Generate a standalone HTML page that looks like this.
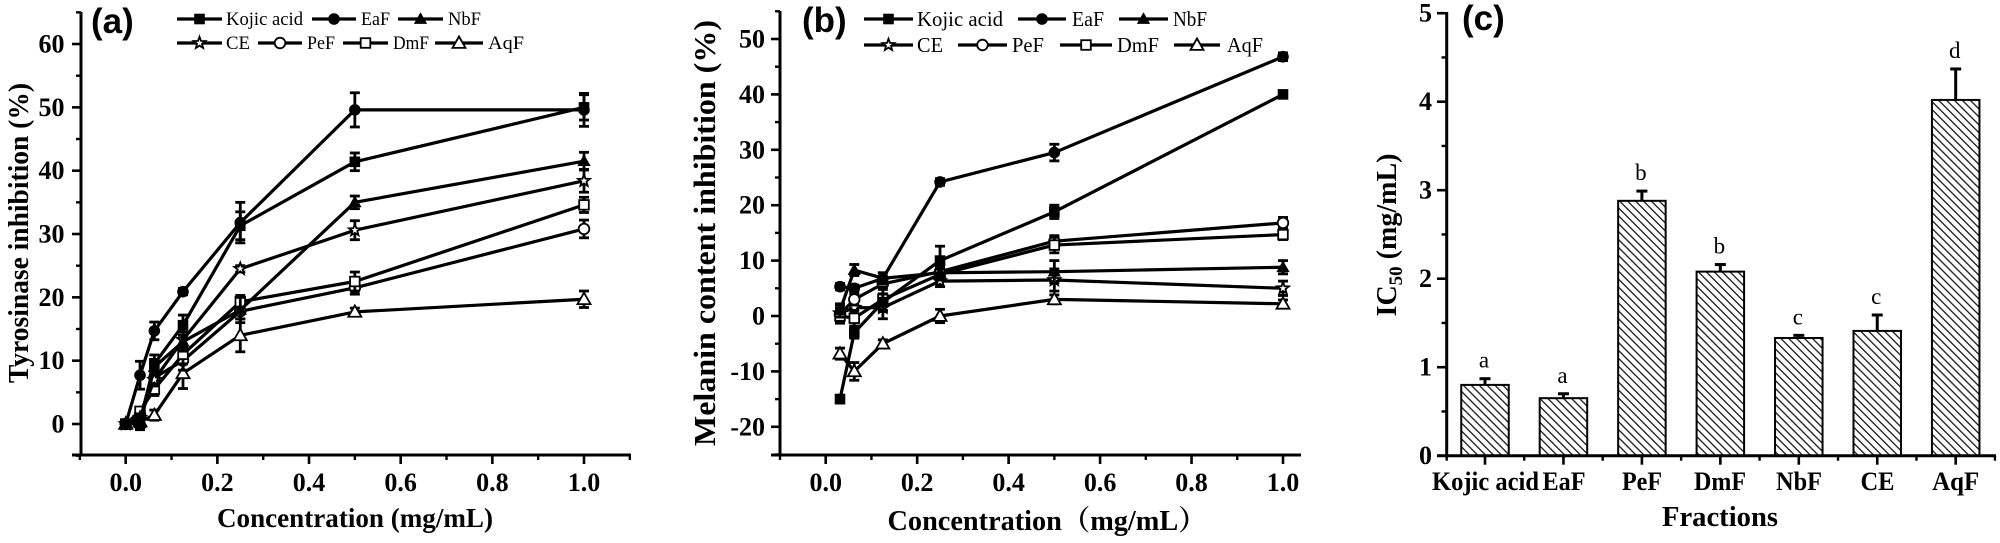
<!DOCTYPE html>
<html lang="en">
<head>
<meta charset="utf-8">
<title>Tyrosinase and melanin inhibition charts</title>
<style>
html,body{margin:0;padding:0;background:#fff;width:2000px;height:543px;overflow:hidden}
svg{display:block;font-family:"Liberation Serif","Noto Serif CJK SC",serif;color:#000;filter:blur(0.35px)}
</style>
</head>
<body>
<svg id="figure" xmlns="http://www.w3.org/2000/svg" width="2000" height="543" viewBox="0 0 2000 543">
<defs>
<pattern id="hatch" patternUnits="userSpaceOnUse" width="5.6" height="10" patternTransform="rotate(-45)">
<rect x="0" y="0" width="1.35" height="10" fill="#222"></rect>
</pattern>
</defs>
</svg>
<script>
// ---------- data ----------
const concentrationsA = [0, 0.03125, 0.0625, 0.125, 0.25, 0.5, 1];
const concentrationsB = [0.03125, 0.0625, 0.125, 0.25, 0.5, 1];
const seriesNames = ['Kojic acid', 'EaF', 'NbF', 'CE', 'PeF', 'DmF', 'AqF'];

const aAq = [0, 0.4, 1.4, 8, 14, 17.7, 19.7];
const aAqErr = [0.3, 0.5, 0.8, 2.4, 2.6, 0.6, 1.3];
const aPe = [0, 1.5, 7.3, 10, 17.8, 21.5, 30.8];
const aPeErr = [0.3, 0.6, 1.2, 1.5, 1.2, 1, 1.4];
const aDm = [0, 2, 5.5, 11, 19.3, 22.5, 34.6];
const aDmErr = [0.3, 0.6, 1, 1.5, 1, 1.5, 1.2];
const aCe = [0, 1, 7, 13.3, 24.5, 30.6, 38.4];
const aCeErr = [0.3, 0.6, 1, 1.2, 0.5, 1.5, 1.8];
const aNb = [0, 0.1, 9, 13, 18, 35, 41.5];
const aNbErr = [0.3, 1, 1.2, 1.5, 2, 1, 1.4];
const aEa = [0, 7.7, 14.7, 20.9, 31.8, 49.6, 49.6];
const aEaErr = [0.3, 2.2, 1.4, 0.5, 3.2, 2.7, 2.6];
const aKo = [0, 0.5, 9.5, 15.6, 31.3, 41.4, 50];
const aKoErr = [0.3, 1, 1.4, 1.6, 2.2, 1.4, 2];

const bAq = [-6.8, -10, -5, 0, 3, 2.2];
const bAqErr = [1, 1.6, 0.7, 1.2, 0.8, 0.7];
const bCe = [0.5, 1.5, 1.5, 6.3, 6.5, 5];
const bCeErr = [1.5, 1.5, 2, 1, 2, 1.3];
const bPe = [0.3, 3, 5.8, 8, 13.5, 16.8];
const bPeErr = [1.2, 1, 1, 1, 1, 1];
const bDm = [0, -0.4, 3, 7.5, 12.8, 14.7];
const bDmErr = [1.3, 1.4, 2.2, 1, 1.4, 0.9];
const bNb = [1, 8.3, 6.8, 7.8, 8, 8.8];
const bNbErr = [1.2, 1, 1, 1, 2, 1.2];
const bEa = [5.3, 5, 6.8, 24.2, 29.5, 46.8];
const bEaErr = [0.6, 0.6, 1, 0.6, 1.5, 0.7];
const bKo = [-15, -3, 2.5, 10, 18.8, 40];
const bKoErr = [0.7, 1, 1.5, 2.6, 1.2, 0.5];

const xTickLabels = ['0.0', '0.2', '0.4', '0.6', '0.8', '1.0'];
const xTickValues = [0, 0.2, 0.4, 0.6, 0.8, 1];
const aYTicks = [0, 10, 20, 30, 40, 50, 60];
const bYTicks = [-20, -10, 0, 10, 20, 30, 40, 50];

const barCategories = ['Kojic acid', 'EaF', 'PeF', 'DmF', 'NbF', 'CE', 'AqF'];
const barValues = [0.80, 0.65, 2.88, 2.08, 1.33, 1.41, 4.02];
const barErrors = [0.07, 0.05, 0.11, 0.08, 0.03, 0.18, 0.35];
const barLetters = ['a', 'a', 'b', 'b', 'c', 'c', 'd'];
const cYTicks = [0, 1, 2, 3, 4, 5];

// ---------- helpers ----------
const NS = 'http://www.w3.org/2000/svg';
const svg = document.getElementById('figure');
function mk(tag, attrs, parent, name) {
  const el = document.createElementNS(NS, tag);
  for (const k in attrs) el.setAttribute(k, attrs[k]);
  
  
  (parent || svg).appendChild(el);
  return el;
}
function line(p, x1, y1, x2, y2, w, name) {
  return mk('line', {x1, y1, x2, y2, stroke: '#000', 'stroke-width': w}, p, name);
}
function txt(p, x, y, s, o, name) {
  const a = Object.assign({x, y, 'font-size': 26, 'font-weight': 'bold', fill: '#000'}, o || {});
  const t = mk('text', a, p, name);
  t.textContent = s;
  return t;
}
function marker(p, kind, x, y, name) {
  const solid = kind === 'Kojic acid' || kind === 'EaF' || kind === 'NbF';
  const fill = solid ? '#000' : '#fff';
  const s = {fill, stroke: '#000', 'stroke-width': solid ? 1 : 1.8};
  if (kind === 'Kojic acid' || kind === 'DmF') {
    const d = 4.8;
    mk('rect', Object.assign({x: x - d, y: y - d, width: 2 * d, height: 2 * d}, s), p, name);
  } else if (kind === 'EaF' || kind === 'PeF') {
    mk('circle', Object.assign({cx: x, cy: y, r: 5.3}, s), p, name);
  } else if (kind === 'NbF' || kind === 'AqF') {
    const r = kind === 'AqF' ? 6.5 : 5.8;
    mk('polygon', Object.assign({points: `${x},${y - r} ${x + r},${y + r * 0.75} ${x - r},${y + r * 0.75}`}, s), p, name);
  } else {
    const pts = [];
    for (let i = 0; i < 10; i++) {
      const rr = i % 2 ? 2.6 : 6.2, an = -Math.PI / 2 + i * Math.PI / 5;
      pts.push((x + rr * Math.cos(an)).toFixed(1) + ',' + (y + rr * Math.sin(an)).toFixed(1));
    }
    mk('polygon', Object.assign({points: pts.join(' ')}, s), p, name);
  }
}
function lineChart(cfg) {
  const g = mk('g', {}, svg, cfg.name);
  const X = v => cfg.x0 + v * cfg.xs;
  const Y = v => cfg.y0 - v * cfg.ys;
  // axes
  line(g, cfg.axisX, cfg.top, cfg.axisX, cfg.bottom + 1.5, 3, 'y-axis-line');
  line(g, cfg.axisX - 9, cfg.bottom, cfg.right, cfg.bottom, 3, 'x-axis-line');
  cfg.yTicks.forEach(v => {
    line(g, cfg.axisX - 9, Y(v), cfg.axisX, Y(v), 2.6, 'y-tick');
    txt(g, cfg.yLabelX, Y(v) + 8.5, String(v), {'text-anchor': 'end'}, 'y-tick-label');
  });
  const step = cfg.yTicks[1] - cfg.yTicks[0];
  for (let v = cfg.yTicks[0] - step / 2; v <= cfg.yTicks[cfg.yTicks.length - 1] + step / 2; v += step) {
    line(g, cfg.axisX - 5, Y(v), cfg.axisX, Y(v), 2.4, 'y-minor-tick');
  }
  xTickValues.forEach((v, i) => {
    line(g, X(v), cfg.bottom, X(v), cfg.bottom + 9, 2.6, 'x-tick');
    txt(g, X(v), 491, xTickLabels[i], {'text-anchor': 'middle'}, 'x-tick-label');
  });
  cfg.xMinor.forEach(v => line(g, X(v), cfg.bottom, X(v), cfg.bottom + 5, 2.4, 'x-minor-tick'));
  // series: lines then error bars then markers
  cfg.series.forEach(s => {
    const sg = mk('g', {}, g, 'series-' + s.label.toLowerCase().replace(' ', '-'));
    mk('polyline', {points: cfg.xs_vals.map((v, i) => X(v) + ',' + Y(s.v[i])).join(' '), fill: 'none', stroke: '#000', 'stroke-width': 3.2, 'stroke-linejoin': 'round'}, sg, 'series-line');
    cfg.xs_vals.forEach((v, i) => {
      const e = s.e[i], px = X(v);
      line(sg, px, Y(s.v[i] - e), px, Y(s.v[i] + e), 2.8, 'error-bar');
      line(sg, px - 5, Y(s.v[i] - e), px + 5, Y(s.v[i] - e), 2.8, 'error-cap');
      line(sg, px - 5, Y(s.v[i] + e), px + 5, Y(s.v[i] + e), 2.8, 'error-cap');
      marker(sg, s.label, px, Y(s.v[i]), 'data-point');
    });
  });
  // legend
  cfg.legend.forEach(l => {
    const lg = mk('g', {}, g, 'legend-entry');
    line(lg, l[1], l[4], l[2], l[4], 3.2, 'legend-line');
    marker(lg, l[0], (l[1] + l[2]) / 2, l[4], 'legend-marker');
    txt(lg, l[3], l[4] + cfg.legendOffset, l[0], {'font-weight': 'normal', 'font-size': cfg.legendSize, textLength: l[5], lengthAdjust: 'spacingAndGlyphs'}, 'legend-label');
  });
}

// ---------- panel a ----------
lineChart({
  name: 'tyrosinase-chart', x0: 125.7, xs: 458.3, y0: 424, ys: 6.333,
  axisX: 81, top: 12, bottom: 455, right: 631, yLabelX: 64.5,
  yTicks: aYTicks, xMinor: [-0.1, 0.1, 0.3, 0.5, 0.7, 0.9, 1.1], xs_vals: concentrationsA, legendSize: 19, legendOffset: 6,
  series: [
    {label: seriesNames[6], v: aAq, e: aAqErr}, {label: seriesNames[4], v: aPe, e: aPeErr},
    {label: seriesNames[5], v: aDm, e: aDmErr}, {label: seriesNames[3], v: aCe, e: aCeErr},
    {label: seriesNames[2], v: aNb, e: aNbErr}, {label: seriesNames[1], v: aEa, e: aEaErr},
    {label: seriesNames[0], v: aKo, e: aKoErr}
  ],
  legend: [
    ['Kojic acid', 177, 222, 226, 19, 77], ['EaF', 312, 356, 361, 19, 29], ['NbF', 398, 443, 448, 19, 33],
    ['CE', 177, 222, 226, 43, 24], ['PeF', 258, 302, 307, 43, 28], ['DmF', 343, 388, 393, 43, 36], ['AqF', 435, 483, 488, 43, 36]
  ]
});
// ---------- panel b ----------
lineChart({
  name: 'melanin-chart', x0: 825.7, xs: 457.3, y0: 316, ys: 5.54,
  axisX: 780, top: 11, bottom: 455, right: 1301, yLabelX: 765,
  yTicks: bYTicks, xMinor: [-0.1, 0.1, 0.3, 0.5, 0.7, 0.9], xs_vals: concentrationsB, legendSize: 21, legendOffset: 7,
  series: [
    {label: seriesNames[6], v: bAq, e: bAqErr}, {label: seriesNames[3], v: bCe, e: bCeErr},
    {label: seriesNames[4], v: bPe, e: bPeErr}, {label: seriesNames[5], v: bDm, e: bDmErr},
    {label: seriesNames[2], v: bNb, e: bNbErr}, {label: seriesNames[1], v: bEa, e: bEaErr},
    {label: seriesNames[0], v: bKo, e: bKoErr}
  ],
  legend: [
    ['Kojic acid', 864, 913, 917, 19, 86], ['EaF', 1018, 1066, 1072, 19, 32], ['NbF', 1119, 1168, 1173, 19, 34],
    ['CE', 864, 913, 917, 45, 26], ['PeF', 958, 1007, 1012, 45, 32], ['DmF', 1060, 1112, 1117, 45, 42], ['AqF', 1174, 1220, 1227, 45, 36]
  ]
});
// ---------- panel c ----------
(function () {
  const g = mk('g', {}, svg, 'ic50-bar-chart');
  const y0 = 455.7, ys = 88.5, x0 = 1485, dx = 78.45, bw = 47.5;
  const Y = v => y0 - v * ys;
  barCategories.forEach((c, i) => {
    const cx = x0 + i * dx, top = Y(barValues[i]), et = Y(barValues[i] + barErrors[i]);
    line(g, cx, top, cx, et, 3, 'bar-error');
    line(g, cx - 5.5, et, cx + 5.5, et, 3, 'bar-error-cap');
    mk('rect', {x: cx - bw / 2, y: top, width: bw, height: y0 - top, fill: 'url(#hatch)', stroke: '#000', 'stroke-width': 2}, g, 'bar-' + c.toLowerCase().replace(' ', '-'));
    txt(g, cx - 1, et - 11, barLetters[i], {'text-anchor': 'middle', 'font-weight': 'normal', 'font-size': 23}, 'significance-letter');
    line(g, cx, y0, cx, y0 + 9, 2.6, 'x-tick');
    line(g, cx + dx / 2, y0, cx + dx / 2, y0 + 5, 2.4, 'x-minor-tick');
  });
  line(g, 1446.7, 12, 1446.7, y0 + 1.5, 3, 'y-axis-line');
  line(g, 1437, y0, 1996, y0, 3, 'x-axis-line');
  line(g, 1446.7, y0, 1446.7, y0 + 5, 2.4, 'x-origin-tick');
  cYTicks.forEach(v => {
    line(g, 1437, Y(v), 1446.7, Y(v), 2.6, 'y-tick');
    txt(g, 1432, Y(v) + 8.5, String(v), {'text-anchor': 'end'}, 'y-tick-label');
    if (v < 5) line(g, 1441.5, Y(v + 0.5), 1446.7, Y(v + 0.5), 2.4, 'y-minor-tick');
  });
  const lx = [1485.5, 1564, 1642, 1720, 1799, 1877.5, 1955.7];
  const lw = [107, 43, 40, 52, 46, 34, 47];
  barCategories.forEach((c, i) => txt(g, lx[i], 490, c, {'text-anchor': 'middle', textLength: lw[i], lengthAdjust: 'spacingAndGlyphs'}, 'x-tick-label'));
})();
// ---------- titles ----------
txt(svg, 355, 527, 'Concentration (mg/mL)', {'text-anchor': 'middle', 'font-size': 27, textLength: 276, lengthAdjust: 'spacingAndGlyphs'}, 'x-axis-title-a');
txt(svg, 0, 0, 'Tyrosinase inhibition (%)', {'text-anchor': 'middle', 'font-size': 28, textLength: 300, lengthAdjust: 'spacingAndGlyphs', transform: 'translate(28,233) rotate(-90)'}, 'y-axis-title-a');
txt(svg, 1047, 530, 'Concentration（mg/mL）', {'text-anchor': 'middle', 'font-size': 28, textLength: 319, lengthAdjust: 'spacingAndGlyphs'}, 'x-axis-title-b');
txt(svg, 0, 0, 'Melanin content inhibition (%)', {'text-anchor': 'middle', 'font-size': 31, textLength: 426, lengthAdjust: 'spacingAndGlyphs', transform: 'translate(715,233) rotate(-90)'}, 'y-axis-title-b');
txt(svg, 1720, 526, 'Fractions', {'text-anchor': 'middle', 'font-size': 28, textLength: 116, lengthAdjust: 'spacingAndGlyphs'}, 'x-axis-title-c');
const ic = txt(svg, 0, 0, '', {'text-anchor': 'middle', 'font-size': 28, transform: 'translate(1396,235) rotate(-90)'}, 'y-axis-title-c');
ic.innerHTML = 'IC<tspan font-size="19" dy="6">50</tspan><tspan dy="-6"> (mg/mL)</tspan>';
const sans = {'font-family': '"Liberation Sans",sans-serif', 'font-size': 35};
txt(svg, 91, 33, '(a)', sans, 'panel-label-a');
txt(svg, 802, 32, '(b)', sans, 'panel-label-b');
txt(svg, 1462, 30, '(c)', sans, 'panel-label-c');
</script>
</body>
</html>
